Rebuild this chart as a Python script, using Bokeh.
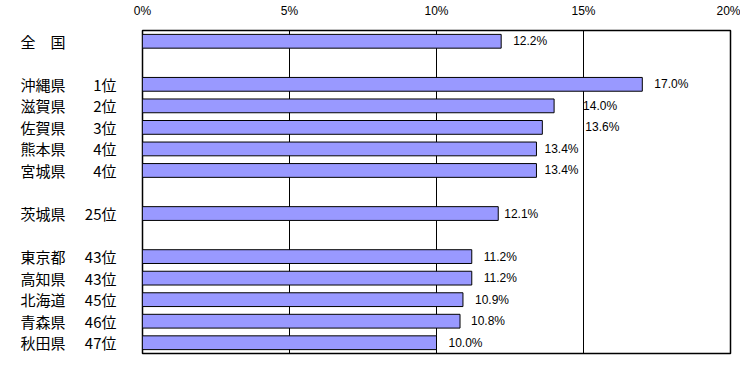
from bokeh.plotting import figure
from bokeh.models import (ColumnDataSource, FactorRange, LabelSet, FixedTicker,
                          CustomJSTickFormatter, CategoricalAxis, CustomJSTicker)
from bokeh.core.properties import value
from bokeh.embed import file_html
from bokeh.resources import INLINE

# --- data ---
names = ["全　国", "", "沖縄県", "滋賀県", "佐賀県", "熊本県", "宮城県", "",
         "茨城県", "", "東京都", "高知県", "北海道", "青森県", "秋田県"]
ranks = ["", "", "1位", "2位", "3位", "4位", "4位", "",
         "25位", "", "43位", "43位", "45位", "46位", "47位"]
values = [12.2, None, 17.0, 14.0, 13.6, 13.4, 13.4, None,
          12.1, None, 11.2, 11.2, 10.9, 10.8, 10.0]
x_ticks = [0, 5, 10, 15, 20]

# style: horizontal label offsets (px)
label_dx = [12, 0, 12, 29, 43, 8, 8, 0, 6, 0, 12, 12, 12, 11, 12]

ZW = "\u200b"  # zero-width space, only used to keep factor names unique


def unique(labels):
    seen, out = {}, []
    for s in labels:
        n = seen.get(s, 0)
        seen[s] = n + 1
        out.append(s + ZW * (n + (1 if s == "" else 0)))
    return out


rank_f = unique(ranks)
name_f = unique(names)

src = ColumnDataSource(dict(
    key=[k for k, v in zip(rank_f, values) if v is not None],
    val=[v for v in values if v is not None],
    lab=["%.1f%%" % v for v in values if v is not None],
    dx=[d for d, v in zip(label_dx, values) if v is not None],
))

p = figure(width=740, height=362, output_backend="svg", toolbar_location=None,
           x_range=(0, 20), y_range=FactorRange(factors=rank_f[::-1]),
           x_axis_location="above", min_border_left=142, min_border_right=10,
           min_border_top=26, min_border_bottom=5)
p.extra_y_ranges = {"names": FactorRange(factors=name_f[::-1])}
p.frame_width = 588
p.frame_height = 323

p.hbar(y="key", right="val", left=0, height=0.64, source=src,
       fill_color="#9999FF", line_color="black", line_width=1)

p.outline_line_color = "black"
p.outline_line_width = 1.5
p.background_fill_color = "white"
p.border_fill_color = "white"

p.xgrid.ticker = FixedTicker(ticks=x_ticks)
p.xgrid.grid_line_color = "black"
p.xgrid.grid_line_width = 1
p.ygrid.grid_line_color = None

p.xaxis.ticker = FixedTicker(ticks=x_ticks)
p.xaxis.formatter = CustomJSTickFormatter(code="return tick + '%';")
p.xaxis.axis_line_color = None
p.xaxis.major_tick_line_color = None
p.xaxis.minor_tick_line_color = None
p.xaxis.major_label_standoff = 7
p.xaxis.major_label_text_font = "Liberation Sans"
p.xaxis.major_label_text_font_size = "12px"
p.xaxis.major_label_text_color = "black"

skip_blank = CustomJSTicker(major_code="""
    return cb_data.range.factors.filter(f => f.replace(/\\u200b/g, '') !== '');
""")


def style_axis(ax, standoff):
    ax.ticker = skip_blank
    ax.axis_line_color = None
    ax.major_tick_line_color = None
    ax.minor_tick_line_color = None
    ax.major_tick_out = 0
    ax.major_tick_in = 0
    ax.major_label_standoff = standoff
    ax.major_label_text_font = "Noto Sans CJK JP"
    ax.major_label_text_font_size = "15px"
    ax.major_label_text_color = "black"


style_axis(p.yaxis[0], 26)
name_ax = CategoricalAxis(y_range_name="names")
style_axis(name_ax, 16)
p.add_layout(name_ax, "left")

vals = LabelSet(x="val", y="key", text="lab", source=src, x_offset="dx",
                text_align="left", text_baseline="middle",
                text_font=value("Liberation Sans"), text_font_size=value("12px"),
                text_color="black")
p.add_layout(vals)

open("out.html", "w").write(file_html(p, INLINE))
